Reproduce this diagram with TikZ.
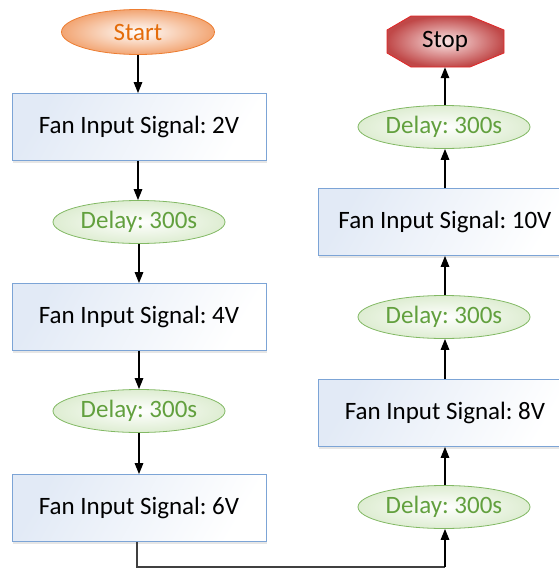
\documentclass[tikz,border=0pt]{standalone}
\usepackage{fontspec}
\setmainfont{Carlito}
\frenchspacing
\usetikzlibrary{arrows.meta,shapes.geometric,shadows}
\definecolor{boxborder}{RGB}{124,164,214}
\definecolor{boxfill}{RGB}{226,234,246}
\definecolor{grnborder}{RGB}{130,185,100}
\definecolor{grnfill}{RGB}{222,237,210}
\definecolor{grntext}{RGB}{98,160,62}
\definecolor{orgborder}{RGB}{237,125,49}
\definecolor{orgfill}{RGB}{242,165,115}
\definecolor{orgtext}{RGB}{228,108,10}
\definecolor{redborder}{RGB}{225,40,40}
\definecolor{redfill}{RGB}{192,72,72}
\definecolor{redin}{RGB}{250,228,228}
\begin{document}
\begin{tikzpicture}[x=1pt,y=-1pt,
  every node/.style={font=\fontsize{25}{28}\selectfont, inner sep=0pt},
  sigbox/.style={rectangle, draw=boxborder, line width=0.8pt,
    top color=boxfill, bottom color=white, shading angle=60,
    minimum width=254pt, minimum height=67pt,
    drop shadow={shadow xshift=1pt, shadow yshift=-2pt, opacity=0.2}},
  delaybox/.style={ellipse, draw=grnborder, line width=0.8pt,
    inner color=white, outer color=grnfill, text=grntext,
    minimum width=172pt, minimum height=43pt},
  startbox/.style={ellipse, draw=orgborder, line width=0.8pt,
    inner color=white, outer color=orgfill, text=orgtext,
    minimum width=153pt, minimum height=45pt},
  stopshape/.style={draw=redborder, line width=0.8pt,
    inner color=redin, outer color=redfill},
  stopbox/.style={rectangle, text=black, minimum width=117pt, minimum height=51pt},
  flow/.style={line width=1.4pt, black, -{Triangle[length=11pt,width=8.5pt]}},
  link/.style={line width=1.4pt, black!75}]
\useasboundingbox (0,0) rectangle (559,568);
% left column
\node[startbox] (start) at (138,32) {Start};
\node[sigbox] (s2) at (139,127) {Fan Input Signal: 2V};
\node[delaybox] (d1) at (139,222) {Delay: 300s};
\node[sigbox] (s4) at (139,317) {Fan Input Signal: 4V};
\node[delaybox] (d2) at (139,411) {Delay: 300s};
\node[sigbox] (s6) at (139,508) {Fan Input Signal: 6V};
% right column
\node[delaybox] (d3) at (444,507) {Delay: 300s};
\node[sigbox] (s8) at (445,413) {Fan Input Signal: 8V};
\node[delaybox] (d4) at (444,317) {Delay: 300s};
\node[sigbox] (s10) at (445,222) {Fan Input Signal: 10V};
\node[delaybox] (d5) at (444,127) {Delay: 300s};
% stop octagon
\coordinate (stopc) at (445,41.5);
\begin{scope}[shift={(stopc)}]
\shade[stopshape] (-34,-25.5) -- (25,-25.5) -- (59,-11.5) -- (59,11.5) -- (25,25.5)
  -- (-34,25.5) -- (-58,11.5) -- (-58,-11.5) -- cycle;
\end{scope}
\node[stopbox] (stop) at (stopc) {Stop};
\coordinate (bl) at (137,567);
\coordinate (br) at (445,567);
% connectors
\draw[flow] (start.south) -- (start.south |- s2.north);
\draw[flow] (s2.south -| start.south) -- (start.south |- d1.north);
\draw[flow] (d1.south) -- (d1.south |- s4.north);
\draw[flow] (s4.south -| d1.south) -- (d1.south |- d2.north);
\draw[flow] (d2.south) -- (d2.south |- s6.north);
\draw[link] (s6.south -| bl) -- (bl) -- (br);
\draw[flow] (br) -- (br |- d3.south);
\draw[flow] (d3.north -| br) -- (br |- s8.south);
\draw[flow] (s8.north -| br) -- (br |- d4.south);
\draw[flow] (d4.north -| br) -- (br |- s10.south);
\draw[flow] (s10.north -| br) -- (br |- d5.south);
\draw[flow] (d5.north -| br) -- (br |- stop.south);
\end{tikzpicture}
\end{document}
